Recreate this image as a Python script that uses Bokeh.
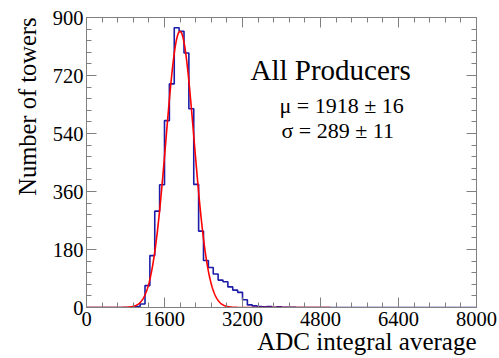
import numpy as np
from bokeh.plotting import figure
from bokeh.models import Range1d, FixedTicker, LinearAxis, Label, Title
from bokeh.embed import file_html
from bokeh.resources import INLINE

# ---- data ----
bin_width = 100
bin_lo = 0
counts = [0] * 10 + [3, 11, 68, 161, 299, 381, 580, 694, 868, 857,
                     790, 617, 382, 237, 146, 124, 104, 85, 80, 64,
                     54, 47, 24, 8, 5, 3, 2, 3, 1, 2,
                     1, 1, 1] + [0] * 37
fit_amp = 857
fit_mean = 1918
fit_sigma = 289
fit_range = (0, 5000)
x_ticks = [0, 1600, 3200, 4800, 6400, 8000]
y_ticks = [0, 180, 360, 540, 720, 900]
title_text = "All Producers"
mu_text = "\u03bc = 1918 \u00b1 16"
sigma_text = "\u03c3 = 289 \u00b1 11"
x_title = "ADC integral average"
y_title = "Number of towers"

FONT = "Liberation Serif"
FRAME = "#808080"

p = figure(width=499, height=358, output_backend="svg", toolbar_location=None,
           x_range=Range1d(0, 8000), y_range=Range1d(0, 900),
           x_axis_location=None, y_axis_location=None,
           min_border_left=86, min_border_right=23,
           min_border_top=17, min_border_bottom=51)
p.grid.visible = False
p.outline_line_color = FRAME
p.outline_line_width = 1
p.background_fill_color = "white"
p.border_fill_color = "white"

x_minor = [i * 320 for i in range(26)]
y_minor = [i * 36 for i in range(26)]

def make_axis(ticks, minor, show_labels):
    ax = LinearAxis(ticker=FixedTicker(ticks=ticks, minor_ticks=minor))
    ax.axis_line_color = FRAME
    ax.major_tick_line_color = FRAME
    ax.minor_tick_line_color = FRAME
    ax.major_tick_in = 10
    ax.major_tick_out = 0
    ax.minor_tick_in = 5
    ax.minor_tick_out = 0
    ax.major_label_text_font = FONT
    ax.major_label_text_color = "black"
    if show_labels:
        ax.major_label_text_font_size = "20.5px"
    else:
        ax.major_label_overrides = {t: "" for t in ticks}
        ax.major_label_text_font_size = "0px"
        ax.major_label_standoff = 0
    return ax

xb = make_axis(x_ticks, x_minor, True)
xb.major_label_standoff = 4
p.add_layout(xb, "below")
yl = make_axis(y_ticks, y_minor, True)
yl.major_label_standoff = 3
p.add_layout(yl, "left")
p.add_layout(make_axis(x_ticks, x_minor, False), "above")
p.add_layout(make_axis(y_ticks, y_minor, False), "right")

# axis titles (ROOT style: aligned to the end of the axis)
p.add_layout(Title(text=x_title, align="right", text_font=FONT, text_font_size="25px",
                   text_font_style="normal", text_color="black", standoff=-6), "below")
p.add_layout(Title(text=y_title, align="right", text_font=FONT, text_font_size="24.5px",
                   text_font_style="normal", text_color="black", standoff=17), "left")

# histogram outline
edges = [bin_lo + i * bin_width for i in range(len(counts) + 1)]
p.step(edges, counts + [counts[-1]], mode="after", line_color="#1c1ca8", line_width=1.6)

# gaussian fit
xf = np.linspace(fit_range[0], fit_range[1], 800)
yf = fit_amp * np.exp(-0.5 * ((xf - fit_mean) / fit_sigma) ** 2)
p.line(xf, yf, line_color="#ff0000", line_width=1.6)

# texts
p.add_layout(Label(x=3364, y=736, text=title_text, text_font=FONT, text_color="black",
                   text_font_size="29px", text_baseline="alphabetic", text_align="left"))
p.add_layout(Label(x=3960, y=627, text=mu_text, text_font=FONT, text_color="black",
                   text_font_size="22px", text_baseline="alphabetic", text_align="left"))
p.add_layout(Label(x=4000, y=549, text=sigma_text, text_font=FONT, text_color="black",
                   text_font_size="22px", text_baseline="alphabetic", text_align="left"))

open("out.html", "w").write(file_html(p, INLINE))
